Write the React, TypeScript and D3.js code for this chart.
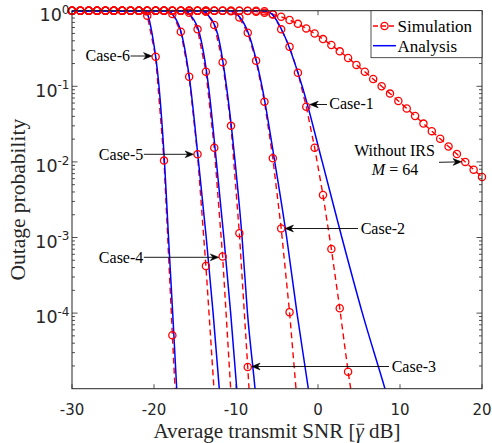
import React, { useLayoutEffect, useRef, useState } from 'react';
import * as d3 from 'd3';

// SNR grid of the simulation points (dB)
const snrGrid = [
  -30, -28.98, -27.96, -26.94, -25.92, -24.9, -23.88, -22.86, -21.84, -20.82,
  -19.8, -18.78, -17.76, -16.73, -15.71, -14.69, -13.67, -12.65, -11.63, -10.61,
  -9.59, -8.57, -7.55, -6.53, -5.51, -4.49, -3.47, -2.45, -1.43, -0.41,
  0.61, 1.63, 2.65, 3.67, 4.69, 5.71, 6.73, 7.76, 8.78, 9.8,
  10.82, 11.84, 12.86, 13.88, 14.9, 15.92, 16.94, 17.96, 18.98, 20,
];

// Without IRS, M = 64 (simulation only)
const withoutIRS = [
  1, 1, 1, 1, 1, 1, 1, 1, 1, 1,
  1, 1, 1, 1, 1, 1, 1, 0.9999, 0.9998, 0.9993,
  0.9968, 0.989, 0.972, 0.941, 0.894,
  0.83, 0.754, 0.67, 0.583, 0.5,
  0.421, 0.351, 0.29, 0.237, 0.192,
  0.156, 0.125, 0.1, 0.0801, 0.0639,
  0.0509, 0.0404, 0.0321, 0.0255, 0.0202,
  0.016, 0.0127, 0.01, 0.0079, 0.0063,
];

// Simulation values of each case on snrGrid (starting at -30 dB)
const case6Sim = [1, 1, 1, 1, 1, 1, 1, 1, 0.997, 0.86, 0.246, 0.0104, 5.1e-5, 3e-7];
const case5Sim = [1, 1, 1, 1, 1, 1, 1, 1, 1, 1, 1, 0.997, 0.904, 0.527, 0.134, 0.0126, 4.2e-4, 8.7e-6];
const case4Sim = [1, 1, 1, 1, 1, 1, 1, 1, 1, 1, 1, 1, 1, 0.997, 0.94, 0.567, 0.156, 0.0154, 5.6e-4, 8.5e-6];
const case3Sim = [1, 1, 1, 1, 1, 1, 1, 1, 1, 1, 1, 1, 1, 1, 1, 0.998, 0.97, 0.647, 0.208, 0.03, 1.14e-3, 1.94e-5, 2.7e-7];
const case2Sim = [1, 1, 1, 1, 1, 1, 1, 1, 1, 1, 1, 1, 1, 1, 1, 1, 1, 1, 0.998, 0.98, 0.81, 0.51, 0.218, 0.0626, 0.0112, 1.32e-3, 1.03e-4, 5e-6];
const case1Sim = [1, 1, 1, 1, 1, 1, 1, 1, 1, 1, 1, 1, 1, 1, 1, 1, 1, 1, 1, 1, 1, 1, 0.998, 0.985, 0.9, 0.567, 0.334, 0.151, 0.0537, 0.0154, 3.65e-3, 7.05e-4, 1.16e-4, 1.68e-5, 3.2e-6];

// Analysis: SNR (dB) at which each outage level is reached
const anaLevels = [1, 0.999, 0.99, 0.9, 0.5, 0.1, 1e-2, 1e-3, 1e-4, 1e-5, 1e-6];
const case6Ana = [-30, -21.6, -21.1, -20.79, -20.24, -19.39, -18.72, -18.23, -17.72, -17.23, -16.75];
const case5Ana = [-30, -18.6, -18.17, -17.74, -16.65, -15.55, -14.57, -13.63, -12.79, -12.04, -11.3];
const case4Ana = [-30, -16.6, -16.1, -15.67, -14.45, -13.35, -12.39, -11.48, -10.65, -9.91, -9.2];
const case3Ana = [-30, -14.5, -14.02, -13.54, -12.26, -11.16, -10.11, -9.26, -8.6, -7.68, -6.9];
const case2Ana = [-30, -11.2, -10.49, -9.88, -8.48, -6.83, -5.27, -3.82, -2.56, -1.18, 0.1];
const case1Ana = [-30, -7.0, -6.34, -5.61, -4.21, -1.93, 0.52, 2.91, 5.41, 8.17, 10.8];

const xTicks = [-30, -20, -10, 0, 10, 20];
const yTickExps = [0, -1, -2, -3, -4];
const legendLabels = ['Simulation', 'Analysis'];

const caseLabels = ['Case-1', 'Case-2', 'Case-3', 'Case-4', 'Case-5', 'Case-6'];

const W = 492;
const H = 443;
const L = 72;
const R = 482;
const T = 10.7;
const B = 388.7;

const RED = '#ff0000';
const BLUE = '#0000ff';
const AX = '#262626';

function Arrow({ x1, y1, x2, y2 }: { x1: number; y1: number; x2: number; y2: number }) {
  const dx = x2 - x1;
  const dy = y2 - y1;
  const len = Math.hypot(dx, dy);
  const ux = dx / len;
  const uy = dy / len;
  const hl = 8.5;
  const hw = 3.4;
  const notch = 6;
  const bx = x2 - ux * hl;
  const by = y2 - uy * hl;
  const nx = x2 - ux * notch;
  const ny = y2 - uy * notch;
  const px = -uy;
  const py = ux;
  const head = `M${x2},${y2} L${bx + px * hw},${by + py * hw} L${nx},${ny} L${bx - px * hw},${by - py * hw} Z`;
  return (
    <g>
      <line x1={x1} y1={y1} x2={nx} y2={ny} stroke="#000" strokeWidth={0.9} />
      <path d={head} fill="#000" stroke="#000" strokeWidth={0.5} />
    </g>
  );
}

export default function App() {
  const x = d3.scaleLinear().domain([-30, 20]).range([L, R]);
  const y = d3.scaleLog().domain([1e-5, 1]).range([B, T]);

  const labelRef = useRef<SVGTextElement>(null);
  const [bar, setBar] = useState<{ x1: number; x2: number } | null>(null);
  const xLabelY = 437.5;
  const xLabelSize = 21;

  useLayoutEffect(() => {
    const el = labelRef.current;
    if (!el) return;
    try {
      const r = el.getExtentOfChar(22);
      setBar({ x1: r.x + r.width * 0.22, x2: r.x + r.width * 1.05 });
    } catch (e) {
      /* ignore */
    }
  }, []);

  const simLine = d3
    .line<number>()
    .x((_, i) => x(snrGrid[i]))
    .y((p) => y(p));

  const anaLine = (snrs: number[]) =>
    d3
      .line<number>()
      .x((s) => x(s))
      .y((_, i) => y(anaLevels[i]))
      .curve(d3.curveMonotoneX)(snrs) || '';

  const sims = [withoutIRS, case1Sim, case2Sim, case3Sim, case4Sim, case5Sim, case6Sim];
  const anas = [case1Ana, case2Ana, case3Ana, case4Ana, case5Ana, case6Ana];

  const minorTicks: number[] = [];
  for (let e = -5; e < 0; e++) {
    for (let k = 2; k <= 9; k++) minorTicks.push(k * Math.pow(10, e));
  }

  const serif = '"Liberation Serif", "Times New Roman", serif';
  const sans = '"DejaVu Sans", sans-serif';

  const ann = [
    { label: caseLabels[5], tx: 130, ty: 61, anchor: 'end', a: [130.5, 56, 152, 56] },
    { label: caseLabels[4], tx: 143.3, ty: 159.6, anchor: 'end', a: [143.8, 154.3, 193.6, 154.3] },
    { label: caseLabels[3], tx: 143.3, ty: 263, anchor: 'end', a: [143.8, 257.3, 218.8, 257.3] },
    { label: caseLabels[2], tx: 391.7, ty: 371.5, anchor: 'start', a: [389, 366.5, 251.6, 366.5] },
    { label: caseLabels[1], tx: 360.7, ty: 233.8, anchor: 'start', a: [358, 228.5, 285, 228.5] },
    { label: caseLabels[0], tx: 329.3, ty: 108.8, anchor: 'start', a: [327, 104.5, 309.8, 104.5] },
  ];

  return (
    <svg
      width={W}
      height={H}
      viewBox={`0 0 ${W} ${H}`}
      style={{ position: 'absolute', left: 0, top: 0, background: '#fff' }}
    >
      <defs>
        <clipPath id="plotClip">
          <rect x={L} y={T - 2} width={R - L} height={B - T + 2} />
        </clipPath>
      </defs>
      <rect x={0} y={0} width={W} height={H} fill="#fff" />

      {/* ticks */}
      <g stroke={AX} strokeWidth={0.8}>
        {xTicks.map((t) => (
          <g key={'xt' + t}>
            <line x1={x(t)} x2={x(t)} y1={B} y2={B - 4.5} />
            <line x1={x(t)} x2={x(t)} y1={T} y2={T + 4.5} />
          </g>
        ))}
        {yTickExps.map((e) => (
          <g key={'yt' + e}>
            <line x1={L} x2={L + 5.5} y1={y(Math.pow(10, e))} y2={y(Math.pow(10, e))} />
            <line x1={R} x2={R - 5.5} y1={y(Math.pow(10, e))} y2={y(Math.pow(10, e))} />
          </g>
        ))}
        {minorTicks.map((v, i) => (
          <g key={'mt' + i}>
            <line x1={L} x2={L + 3} y1={y(v)} y2={y(v)} />
            <line x1={R} x2={R - 3} y1={y(v)} y2={y(v)} />
          </g>
        ))}
      </g>

      {/* curves */}
      <g clipPath="url(#plotClip)" fill="none">
        {sims.map((s, i) => (
          <path key={'s' + i} d={simLine(s) || ''} stroke={RED} strokeWidth={1.4} strokeDasharray="6,4" />
        ))}
        {anas.map((a, i) => (
          <path key={'a' + i} d={anaLine(a)} stroke={BLUE} strokeWidth={1.5} />
        ))}
      </g>
      <g fill="none" stroke={RED} strokeWidth={1.3}>
        {sims.map((s, i) =>
          s.map((p, j) =>
            p >= 1e-5 ? <circle key={`m${i}-${j}`} cx={x(snrGrid[j])} cy={y(p)} r={3.6} /> : null
          )
        )}
      </g>

      {/* frame */}
      <rect x={L} y={T} width={R - L} height={B - T} fill="none" stroke={AX} strokeWidth={1} />

      {/* tick labels */}
      <g fontFamily={sans} fill={AX}>
        {xTicks.map((t) => (
          <text key={'xl' + t} x={x(t)} y={414.5} fontSize={15} textAnchor="middle">
            {t < 0 ? '-' + Math.abs(t) : String(t)}
          </text>
        ))}
        {yTickExps.map((e) => (
          <text key={'yl' + e} x={69.5} y={y(Math.pow(10, e)) + 10.3} fontSize={17.5} textAnchor="end">
            <tspan>10</tspan>
            <tspan fontSize={12} dy={-7.5}>
              {e < 0 ? '-' + Math.abs(e) : String(e)}
            </tspan>
          </text>
        ))}
      </g>

      {/* axis labels */}
      <text
        ref={labelRef}
        x={(L + R) / 2}
        y={xLabelY}
        fontFamily={serif}
        fontSize={xLabelSize}
        fill={AX}
        textAnchor="middle"
      >
        {'Average transmit SNR ['}
        <tspan fontStyle="italic">{'\u03B3'}</tspan>
        {' dB]'}
      </text>
      {bar && (
        <line
          x1={bar.x1}
          x2={bar.x2}
          y1={xLabelY - 0.63 * xLabelSize}
          y2={xLabelY - 0.63 * xLabelSize}
          stroke={AX}
          strokeWidth={1}
        />
      )}
      <text
        transform={`translate(25,${(T + B) / 2}) rotate(-90)`}
        fontFamily={serif}
        fontSize={21.5}
        fill={AX}
        textAnchor="middle"
      >
        Outage probability
      </text>

      {/* annotations */}
      <g fontFamily={serif} fontSize={16} fill="#000">
        {ann.map((a) => (
          <g key={a.label}>
            <text x={a.tx} y={a.ty} textAnchor={a.anchor as any}>
              {a.label}
            </text>
            <Arrow x1={a.a[0]} y1={a.a[1]} x2={a.a[2]} y2={a.a[3]} />
          </g>
        ))}
        <text x={394.5} y={156} textAnchor="middle">
          Without IRS
        </text>
        <text x={395} y={174.5} textAnchor="middle">
          <tspan fontStyle="italic">M</tspan> = 64
        </text>
        <Arrow x1={439} y1={162.3} x2={461.5} y2={161.8} />
      </g>

      {/* legend */}
      <g>
        <rect x={371} y={T} width={R - 371} height={47} fill="#fff" stroke={AX} strokeWidth={0.8} />
        <line x1={373} x2={396} y1={26} y2={26} stroke={RED} strokeWidth={1.4} strokeDasharray="5,3" />
        <circle cx={384.5} cy={26} r={3.6} fill="none" stroke={RED} strokeWidth={1.3} />
        <line x1={373} x2={396} y1={45.7} y2={45.7} stroke={BLUE} strokeWidth={1.5} />
        <text x={397.5} y={32} fontFamily={serif} fontSize={17} fill="#000">
          {legendLabels[0]}
        </text>
        <text x={397.5} y={51.5} fontFamily={serif} fontSize={17} fill="#000">
          {legendLabels[1]}
        </text>
      </g>
    </svg>
  );
}
